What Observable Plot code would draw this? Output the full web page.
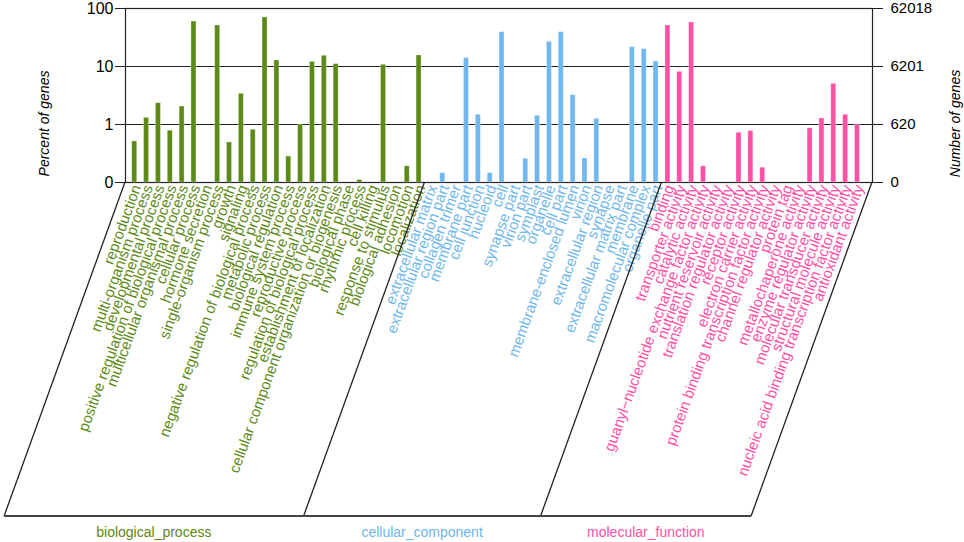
<!DOCTYPE html>
<html>
<head>
<meta charset="utf-8">
<script src="https://cdn.jsdelivr.net/npm/d3@7"></script>
<script src="https://cdn.jsdelivr.net/npm/@observablehq/plot@0.6"></script>
<style>
  html, body { margin: 0; padding: 0; background: #fff; }
  #chart { width: 964px; height: 542px; }
</style>
</head>
<body>
<div id="chart"></div>
<script>
// ---------- data ----------
const groupNames = ["biological_process", "cellular_component", "molecular_function"];
const groupColors = ["#5c8a17", "#6fb7ec", "#ff50a6"];

const bpNames = ["reproduction", "multi-organism process", "developmental process",
  "positive regulation of biological process", "multicellular organismal process",
  "cellular process", "hormone secretion", "single-organism process", "growth", "signaling",
  "negative regulation of biological process", "metabolic process", "biological regulation",
  "immune system process", "reproductive process", "regulation of biological process",
  "establishment of localization", "cellular component organization or biogenesis",
  "biological phase", "rhythmic process", "cell killing", "response to stimulus",
  "biological adhesion", "locomotion", "localization"];
const bpValues = [0.51, 1.30, 2.33, 0.78, 2.04, 59.7, 0, 50.9, 0.49, 3.38,
  0.81, 70, 12.7, 0.28, 0.99, 12.0, 15.3, 11.0,
  0, 0.11, 0, 10.7, 0, 0.19, 15.5];

const ccNames = ["extracellular matrix", "extracellular region part", "collagen trimer",
  "membrane part", "cell junction", "nucleoid", "cell", "synapse part", "virion part",
  "symplast", "organelle", "cell part", "membrane-enclosed lumen", "virion",
  "extracellular region", "synapse", "extracellular matrix part", "membrane",
  "macromolecular complex", "organelle part"];
const ccValues = [0, 0.145, 0, 13.9, 1.47, 0.145, 39.1, 0, 0.256, 1.41,
  26.6, 39.1, 3.2, 0.26, 1.25, 0, 0, 21.5, 19.9, 12.2];

const mfNames = ["binding", "transporter activity", "catalytic activity",
  "guanyl\u2212nucleotide exchange factor activity", "nutrient reservoir activity",
  "translation regulator activity", "receptor activity", "electron carrier activity",
  "protein binding transcription factor activity", "channel regulator activity",
  "protein tag", "metallochaperone activity", "enzyme regulator activity",
  "molecular transducer activity", "structural molecule activity",
  "nucleic acid binding transcription factor activity", "antioxidant activity"];
const mfValues = [50.9, 8.1, 57.4, 0.19, 0, 0, 0.72, 0.77, 0.18, 0,
  0, 0, 0.86, 1.27, 5.03, 1.47, 0.98];

const tickValues = [0.1, 1, 10, 100];
const leftTickLabels = ["0", "1", "10", "100"];
const rightTickLabels = ["0", "620", "6201", "62018"];
const leftTitle = "Percent of genes";
const rightTitle = "Number of genes";

// ---------- build table ----------
const rows = [];
[[bpNames, bpValues], [ccNames, ccValues], [mfNames, mfValues]].forEach(([names, values], g) => {
  names.forEach((n, i) => rows.push({name: n, value: values[i], group: groupNames[g]}));
});
const allNames = rows.map(d => d.name);

// ---------- layout constants ----------
const W = 964, H = 542;
const slantDepth = 334;        // how far the label panel goes below the baseline
const slantAngle = 70.1;       // degrees of the parallelogram sides
const slantDx = slantDepth / Math.tan(slantAngle * Math.PI / 180);
const lineColor = "#222";

// custom mark: parallelogram panel + group names
function panel(index, scales, values, dim) {
  const x = scales.x;
  const step = x.step ? x.step() : 11.85;
  const bw = x.bandwidth ? x.bandwidth() : 5;
  const y0 = dim.height - dim.marginBottom;
  const y1 = y0 + slantDepth;
  const tops = [dim.marginLeft];
  groupNames.slice(0, -1).forEach(g => {
    const last = rows.filter(d => d.group === g).slice(-1)[0].name;
    tops.push(x(last) + bw + (step - bw) / 2);
  });
  tops.push(dim.width - dim.marginRight);
  const g = d3.create("svg:g");
  tops.forEach(t => {
    g.append("line").attr("x1", t).attr("y1", y0).attr("x2", t - slantDx).attr("y2", y1)
      .attr("stroke", lineColor).attr("stroke-width", 1.3);
  });
  g.append("line").attr("x1", tops[0] - slantDx).attr("y1", y1)
    .attr("x2", tops[tops.length - 1] - slantDx).attr("y2", y1)
    .attr("stroke", "#444").attr("stroke-width", 2.2);
  groupNames.forEach((name, i) => {
    const cx = (tops[i] + tops[i + 1]) / 2 - slantDx;
    g.append("text").attr("x", cx).attr("y", y1 + 16).attr("dy", "0.35em")
      .attr("text-anchor", "middle").attr("fill", groupColors[i])
      .attr("font-size", 14).text(name);
  });
  return g.node();
}

const chart = Plot.plot({
  width: W,
  height: H,
  marginLeft: 125,
  marginRight: 92,
  marginTop: 8,
  marginBottom: 360,
  style: {fontFamily: "'Liberation Sans', Arial, sans-serif", fontSize: "15px", background: "#fff", color: "#000"},
  x: {type: "band", domain: allNames, range: [128.3, 862.9], paddingInner: 0.58, paddingOuter: 0.29, axis: null},
  y: {type: "log", domain: [0.1, 100], axis: null},
  color: {domain: groupNames, range: groupColors},
  marks: [
    Plot.ruleY([1, 10], {stroke: lineColor, strokeWidth: 1.2}),
    Plot.frame({stroke: lineColor, strokeWidth: 1.2}),
    Plot.axisY({anchor: "left", ticks: tickValues, tickSize: 10, tickPadding: 2,
      tickFormat: d => leftTickLabels[tickValues.indexOf(d)], stroke: lineColor, fontSize: 16, label: null}),
    Plot.axisY({anchor: "right", ticks: tickValues, tickSize: 10, tickPadding: 8,
      tickFormat: d => rightTickLabels[tickValues.indexOf(d)], stroke: lineColor, fontSize: 15, label: null}),
    Plot.barY(rows.filter(d => d.value > 0), {x: "name", y1: () => 0.1, y2: "value", fill: "group",
      stroke: "white", strokeOpacity: 0.35, strokeWidth: 0.8}),
    Plot.text(rows, {x: "name", y: () => 0.1, text: "name", fill: "group", rotate: -70,
      textAnchor: "end", fontSize: 15, dx: 2, dy: 3}),
    Plot.text([leftTitle], {frameAnchor: "left", text: d => d, rotate: -90, dx: -81, dy: 28,
      textAnchor: "middle", fontSize: 14, fontStyle: "italic"}),
    Plot.text([rightTitle], {frameAnchor: "right", text: d => d, rotate: -90, dx: 83, dy: 28,
      textAnchor: "middle", fontSize: 14, fontStyle: "italic"}),
    panel
  ]
});
document.getElementById("chart").appendChild(chart);
</script>
</body>
</html>
